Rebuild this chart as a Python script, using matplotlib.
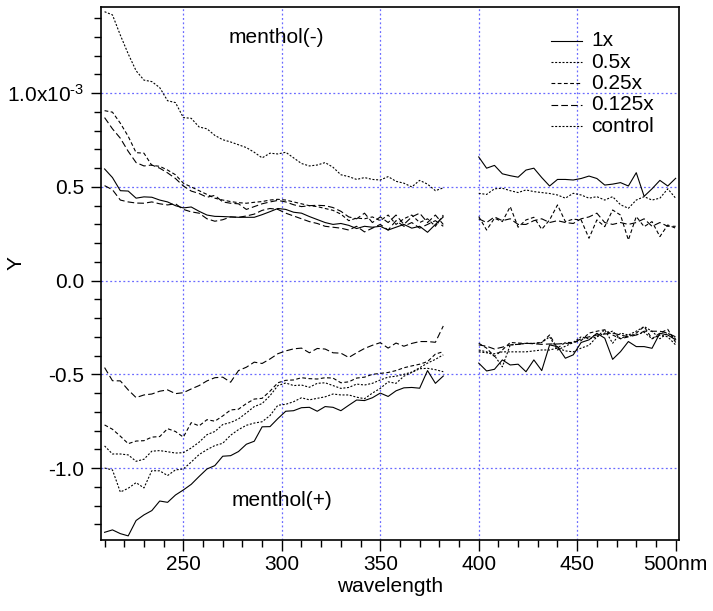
import numpy as np
import matplotlib
matplotlib.use("Agg")
import matplotlib.pyplot as plt

plt.rcParams['font.family'] = ['Liberation Sans', 'DejaVu Sans']
plt.rcParams['mathtext.fontset'] = 'custom'
plt.rcParams['mathtext.rm'] = 'Liberation Sans'
plt.rcParams['mathtext.it'] = 'Liberation Sans:italic'
plt.rcParams['mathtext.bf'] = 'Liberation Sans:bold'

# wavelengths (nm) of the two scan segments
wl_a = [210, 214, 218, 222, 226, 230, 234, 238, 242, 246, 250, 254, 258, 262, 266,
        270, 274, 278, 282, 286, 290, 294, 298, 302, 306, 310, 314, 318, 322, 326,
        330, 334, 338, 342, 346, 350, 354, 358, 362, 366, 370, 374, 378, 382]
wl_b = [400, 404, 408, 412, 416, 420, 424, 428, 432, 436, 440, 444, 448, 452, 456,
        460, 464, 468, 472, 476, 480, 484, 488, 492, 496, 500]

# ---- menthol(-), values in 1e-3 ----
neg_1x_a = [0.596, 0.55, 0.48, 0.478, 0.44, 0.447, 0.445, 0.43, 0.42, 0.40, 0.388, 0.393,
            0.37, 0.35, 0.343, 0.342, 0.34, 0.338, 0.338, 0.338, 0.352, 0.368, 0.385, 0.38,
            0.365, 0.36, 0.342, 0.326, 0.31, 0.30, 0.305, 0.295, 0.278, 0.29, 0.285, 0.29,
            0.27, 0.285, 0.30, 0.28, 0.29, 0.258, 0.30, 0.34]
neg_1x_b = [0.66, 0.60, 0.615, 0.57, 0.56, 0.552, 0.59, 0.60, 0.55, 0.505, 0.54, 0.54, 0.537,
            0.545, 0.558, 0.545, 0.51, 0.515, 0.523, 0.505, 0.576, 0.45, 0.49, 0.535, 0.505, 0.546]
neg_05x_a = [1.435, 1.418, 1.31, 1.21, 1.12, 1.07, 1.062, 1.03, 0.96, 0.95, 0.87, 0.866,
             0.82, 0.81, 0.775, 0.752, 0.74, 0.725, 0.71, 0.685, 0.655, 0.68, 0.676, 0.685,
             0.655, 0.625, 0.612, 0.617, 0.63, 0.605, 0.565, 0.555, 0.54, 0.55, 0.54, 0.537,
             0.555, 0.53, 0.52, 0.50, 0.535, 0.515, 0.48, 0.495]
neg_05x_b = [0.466, 0.46, 0.49, 0.493, 0.48, 0.47, 0.484, 0.475, 0.47, 0.465, 0.457, 0.44,
             0.466, 0.457, 0.44, 0.448, 0.43, 0.448, 0.405, 0.386, 0.43, 0.448, 0.43, 0.44, 0.49, 0.44]
neg_025x_a = [0.907, 0.899, 0.84, 0.77, 0.683, 0.68, 0.615, 0.61, 0.59, 0.565, 0.52, 0.50,
              0.48, 0.46, 0.44, 0.43, 0.422, 0.416, 0.413, 0.418, 0.422, 0.43, 0.434, 0.43,
              0.42, 0.41, 0.40, 0.395, 0.385, 0.375, 0.355, 0.32, 0.334, 0.33, 0.34, 0.32,
              0.35, 0.30, 0.33, 0.35, 0.31, 0.33, 0.29, 0.35]
neg_025x_b = [0.342, 0.27, 0.333, 0.315, 0.395, 0.285, 0.324, 0.338, 0.274, 0.324, 0.404, 0.315,
              0.328, 0.324, 0.226, 0.324, 0.288, 0.377, 0.35, 0.217, 0.342, 0.288, 0.315, 0.235,
              0.297, 0.28]
neg_0125x_a = [0.87, 0.81, 0.76, 0.69, 0.63, 0.612, 0.617, 0.60, 0.575, 0.545, 0.505, 0.478,
               0.465, 0.445, 0.455, 0.42, 0.413, 0.41, 0.38, 0.395, 0.41, 0.42, 0.428, 0.42,
               0.405, 0.395, 0.40, 0.402, 0.40, 0.39, 0.37, 0.34, 0.33, 0.36, 0.31, 0.34,
               0.31, 0.35, 0.30, 0.34, 0.36, 0.31, 0.35, 0.30]
neg_0125x_b = [0.33, 0.31, 0.34, 0.32, 0.33, 0.30, 0.30, 0.32, 0.33, 0.31, 0.32, 0.31, 0.305,
               0.33, 0.34, 0.36, 0.31, 0.30, 0.31, 0.30, 0.31, 0.33, 0.29, 0.31, 0.29, 0.29]
neg_ctrl_a = [0.507, 0.485, 0.43, 0.42, 0.414, 0.413, 0.42, 0.41, 0.404, 0.41, 0.38, 0.367,
              0.36, 0.33, 0.317, 0.325, 0.34, 0.338, 0.345, 0.355, 0.375, 0.385, 0.38, 0.36,
              0.345, 0.33, 0.315, 0.305, 0.29, 0.285, 0.28, 0.27, 0.29, 0.26, 0.28, 0.30,
              0.27, 0.32, 0.29, 0.31, 0.28, 0.30, 0.32, 0.29]

# ---- menthol(+), values in 1e-3 ----
pos_1x_a = [-1.343, -1.33, -1.35, -1.362, -1.28, -1.25, -1.227, -1.176, -1.183, -1.144, -1.117,
            -1.087, -1.045, -1.005, -0.987, -0.937, -0.934, -0.912, -0.873, -0.857, -0.78,
            -0.779, -0.736, -0.697, -0.694, -0.678, -0.676, -0.697, -0.672, -0.676, -0.694,
            -0.665, -0.637, -0.64, -0.625, -0.60, -0.618, -0.588, -0.572, -0.57, -0.574,
            -0.48, -0.548, -0.509]
pos_1x_b = [-0.44, -0.482, -0.473, -0.423, -0.45, -0.446, -0.486, -0.423, -0.48, -0.343, -0.352,
            -0.414, -0.396, -0.33, -0.316, -0.281, -0.307, -0.42, -0.379, -0.325, -0.352, -0.352,
            -0.361, -0.281, -0.29, -0.316]
pos_05x_a = [-0.882, -0.925, -0.925, -0.93, -0.964, -0.953, -0.91, -0.907, -0.913, -0.92, -0.918,
             -0.893, -0.862, -0.822, -0.805, -0.768, -0.757, -0.738, -0.706, -0.672, -0.656,
             -0.614, -0.56, -0.546, -0.56, -0.557, -0.569, -0.548, -0.545, -0.56, -0.575, -0.57,
             -0.552, -0.557, -0.548, -0.53, -0.515, -0.51, -0.50, -0.488, -0.465, -0.44, -0.42,
             -0.396]
pos_05x_b = [-0.38, -0.385, -0.39, -0.38, -0.38, -0.38, -0.38, -0.375, -0.37, -0.37, -0.36,
             -0.375, -0.38, -0.36, -0.345, -0.30, -0.262, -0.334, -0.28, -0.29, -0.29, -0.275,
             -0.31, -0.29, -0.30, -0.343]
pos_025x_a = [-0.77, -0.793, -0.83, -0.87, -0.856, -0.854, -0.835, -0.832, -0.79, -0.805, -0.835,
              -0.758, -0.775, -0.742, -0.75, -0.722, -0.69, -0.686, -0.656, -0.632, -0.628,
              -0.59, -0.545, -0.532, -0.53, -0.518, -0.523, -0.525, -0.518, -0.52, -0.545,
              -0.54, -0.52, -0.515, -0.50, -0.495, -0.49, -0.48, -0.465, -0.455, -0.446,
              -0.432, -0.392, -0.379]
pos_025x_b = [-0.334, -0.36, -0.405, -0.37, -0.33, -0.333, -0.335, -0.335, -0.33, -0.29, -0.36,
              -0.33, -0.33, -0.32, -0.28, -0.27, -0.262, -0.29, -0.31, -0.30, -0.28, -0.245,
              -0.31, -0.28, -0.26, -0.33]
pos_0125x_a = [-0.464, -0.534, -0.535, -0.583, -0.624, -0.61, -0.605, -0.59, -0.583, -0.603,
               -0.598, -0.578, -0.56, -0.535, -0.518, -0.515, -0.542, -0.48, -0.462, -0.435,
               -0.442, -0.418, -0.39, -0.375, -0.364, -0.36, -0.385, -0.362, -0.365, -0.385,
               -0.387, -0.41, -0.385, -0.362, -0.345, -0.331, -0.36, -0.333, -0.35, -0.335,
               -0.325, -0.325, -0.329, -0.242]
pos_0125x_b = [-0.343, -0.35, -0.365, -0.355, -0.343, -0.34, -0.334, -0.337, -0.34, -0.338,
               -0.338, -0.335, -0.333, -0.31, -0.30, -0.29, -0.285, -0.28, -0.29, -0.30, -0.29,
               -0.27, -0.27, -0.27, -0.28, -0.30]
pos_ctrl_a = [-1.0, -1.01, -1.128, -1.108, -1.078, -1.106, -1.014, -1.015, -1.04, -1.01, -1.005,
              -0.968, -0.928, -0.902, -0.88, -0.868, -0.825, -0.795, -0.772, -0.76, -0.753,
              -0.72, -0.665, -0.66, -0.646, -0.625, -0.636, -0.628, -0.62, -0.605, -0.61, -0.61,
              -0.622, -0.63, -0.60, -0.575, -0.54, -0.548, -0.51, -0.49, -0.47, -0.468, -0.475,
              -0.486]
pos_ctrl_b = [-0.37, -0.38, -0.40, -0.46, -0.343, -0.34, -0.335, -0.335, -0.33, -0.30, -0.37,
              -0.35, -0.33, -0.30, -0.31, -0.30, -0.28, -0.27, -0.31, -0.29, -0.27, -0.245,
              -0.27, -0.31, -0.28, -0.31]

labels = ['1x', '0.5x', '0.25x', '0.125x', 'control']

# line styles (dash patterns in points)
st_solid = '-'
st_dot = (0, (1.8, 1.5))
st_dash = (0, (3.4, 2.2))
st_long = (0, (6.0, 2.8))
st_ctrl = (0, (1.8, 1.5))
styles = [st_solid, st_dot, st_dash, st_long, st_ctrl]
LW = 0.8
FS = 15

fig = plt.figure(figsize=(7.13, 6.11), dpi=100)
ax = fig.add_axes([0.1417, 0.1162, 0.8106, 0.8723])

# grid
for gx in [250, 300, 350, 400, 450]:
    ax.axvline(gx, color='#6a6aff', linestyle=(0, (1.5, 2.0)), lw=0.9, zorder=0)
for gy in [-1.0, -0.5, 0.0, 0.5, 1.0]:
    ax.axhline(gy, color='#6a6aff', linestyle=(0, (1.5, 2.0)), lw=0.9, zorder=0)

def draw(a_vals, b_vals, st):
    if a_vals is not None:
        ax.plot(wl_a, a_vals, color='black', lw=LW, linestyle=st)
    if b_vals is not None:
        ax.plot(wl_b, b_vals, color='black', lw=LW, linestyle=st)

neg = [(neg_1x_a, neg_1x_b), (neg_05x_a, neg_05x_b), (neg_025x_a, neg_025x_b),
       (neg_0125x_a, neg_0125x_b), (neg_ctrl_a, None)]
pos = [(pos_1x_a, pos_1x_b), (pos_05x_a, pos_05x_b), (pos_025x_a, pos_025x_b),
       (pos_0125x_a, pos_0125x_b), (pos_ctrl_a, pos_ctrl_b)]
neg_styles = [st_solid, st_dot, st_dash, st_long, st_long]
for (a, b), st in zip(neg, neg_styles):
    draw(a, b, st)
for (a, b), st in zip(pos, styles):
    draw(a, b, st)

ax.set_xlim(208.2, 501.7)
ax.set_ylim(-1.384, 1.46)

ax.set_xticks([250, 300, 350, 400, 450, 500])
ax.set_xticklabels(['250', '300', '350', '400', '450', '500nm'])
ax.set_xticks(np.arange(210, 501, 10), minor=True)
ax.set_yticks([-1.0, -0.5, 0.0, 0.5, 1.0])
ax.set_yticklabels(['-1.0', '-0.5', '0.0', '0.5', '1.0x10$^{\\text{-3}}$'])
ax.set_yticks(np.arange(-1.3, 1.45, 0.1), minor=True)
ax.tick_params(axis='x', which='major', direction='out', length=8, width=1, labelsize=FS, pad=3)
ax.tick_params(axis='y', which='major', direction='out', length=7, width=1, labelsize=FS, pad=5)
ax.tick_params(which='minor', direction='out', length=5, width=1)
ax.tick_params(top=False, right=False, which='both')
for sp in ax.spines.values():
    sp.set_linewidth(1.2)

ax.set_xlabel('wavelength', fontsize=FS, labelpad=2)
ax.set_ylabel('Y', fontsize=FS)
ax.yaxis.set_label_coords(-0.131, 0.52)

ax.text(297, 1.295, 'menthol(-)', fontsize=FS, ha='center', va='center')
ax.text(300, -1.172, 'menthol(+)', fontsize=FS, ha='center', va='center')

# legend drawn in axes coordinates (no frame)
leg_rows = [0.937, 0.896, 0.857, 0.817, 0.776]
for lab, st, ry in zip(labels, styles, leg_rows):
    ax.plot([0.778, 0.832], [ry, ry], transform=ax.transAxes, color='black', lw=LW,
            linestyle=st)
    ax.text(0.848, ry, lab, transform=ax.transAxes, fontsize=FS, ha='left', va='center')

fig.savefig('out.png', dpi=100)
